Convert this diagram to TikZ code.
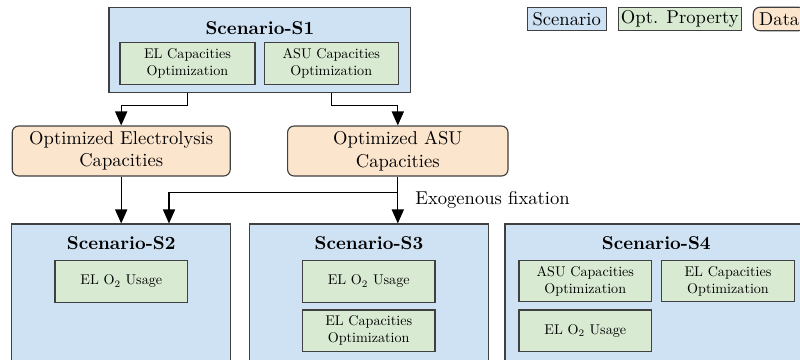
\documentclass[tikz,border=0pt]{standalone}
\usepackage{graphicx}
\usetikzlibrary{arrows.meta}
\def\PX{0.5376pt}
\newcommand\smtxt[1]{\scalebox{0.76}{\begin{tabular}{@{}c@{}}#1\end{tabular}}}
\definecolor{scblue}{HTML}{CFE2F3}
\definecolor{opgreen}{HTML}{D9EAD3}
\definecolor{dtorange}{HTML}{FCE5CD}
\tikzset{
  scen/.style={draw=black!75, line width=0.6pt, fill=scblue, rectangle, inner sep=0pt},
  prop/.style={draw=black!75, line width=0.6pt, fill=opgreen, rectangle, inner sep=0pt, align=center},
  data/.style={draw=black!75, line width=0.6pt, fill=dtorange, rectangle, rounded corners=3.5pt, inner sep=0pt, align=center},
  title/.style={font=\bfseries, inner sep=0pt},
  leg/.style={inner sep=0pt, minimum height=23.4*\PX},
  arr/.style={line width=0.6pt, -{Triangle[width=6.5pt,length=7.5pt]}},
}
\begin{document}
\begin{tikzpicture}[x=0.5376pt, y=-0.5376pt]
\useasboundingbox (0,0) rectangle (800,359);
\clip (0,0) rectangle (800,359);
% Scenario S1
\node[scen, minimum width=301.7*\PX, minimum height=85.4*\PX] (S1) at (259.9,50) {};
\node[title] (S1t) at (259.9,28) {Scenario-S1};
\node[prop, minimum width=135*\PX, minimum height=42*\PX] (S1el) at (187.5,63.3) {\smtxt{EL Capacities\\Optimization}};
\node[prop, minimum width=134*\PX, minimum height=42*\PX] (S1asu) at (331.3,63.3) {\smtxt{ASU Capacities\\Optimization}};
% Data
\node[data, minimum width=218*\PX, minimum height=50*\PX] (O1) at (121.2,151) {Optimized Electrolysis\\Capacities};
\node[data, minimum width=220.4*\PX, minimum height=50*\PX] (O2) at (397.8,151) {Optimized ASU\\Capacities};
% Scenario S2
\node[scen, minimum width=219*\PX, minimum height=170*\PX] (S2) at (121.2,309) {};
\node[title] (S2t) at (121.2,243.3) {Scenario-S2};
\node[prop, minimum width=132.7*\PX, minimum height=41.6*\PX] (S2o2) at (121.3,281.5) {\smtxt{EL O$_2$ Usage}};
% Scenario S3
\node[scen, minimum width=239.4*\PX, minimum height=170*\PX] (S3) at (369,309) {};
\node[title] (S3t) at (369,243.3) {Scenario-S3};
\node[prop, minimum width=132.7*\PX, minimum height=41.6*\PX] (S3o2) at (368.7,281.5) {\smtxt{EL O$_2$ Usage}};
\node[prop, minimum width=132.7*\PX, minimum height=41.7*\PX] (S3el) at (368.7,330.8) {\smtxt{EL Capacities\\Optimization}};
% Scenario S4
\node[scen, minimum width=302*\PX, minimum height=170*\PX] (S4) at (656,309) {};
\node[title] (S4t) at (656.3,243.3) {Scenario-S4};
\node[prop, minimum width=132.7*\PX, minimum height=41*\PX] (S4asu) at (585.3,281.2) {\smtxt{ASU Capacities\\Optimization}};
\node[prop, minimum width=132.6*\PX, minimum height=41*\PX] (S4el) at (728,281.2) {\smtxt{EL Capacities\\Optimization}};
\node[prop, minimum width=132.7*\PX, minimum height=41.7*\PX] (S4o2) at (585.3,330.8) {\smtxt{EL O$_2$ Usage}};
% Legend
\node[scen, leg, minimum width=78.7*\PX] (Lsc) at (566.7,19) {Scenario};
\node[prop, leg, minimum width=123*\PX] (Lop) at (679.8,19) {Opt. Property};
\node[data, leg, minimum width=52*\PX, anchor=west] (Lda) at (752.7,19) {Data};
% Connectors
\draw[arr] (S1el |- S1.south) -- ++(0,12.3) -| (O1.north);
\draw[arr] (S1asu |- S1.south) -- ++(0,12.3) -| (O2.north);
\draw[arr] (O1.south) -- (O1.south |- S2.north);
\draw[arr] (O2.south) -- (O2.south |- S3.north);
\coordinate (fx) at (169,192.3);
\draw[arr] (O2.south |- fx) -- (fx) -- (fx |- S2.north);
\node[anchor=west, inner sep=0pt] (exo) at (415,200) {Exogenous fixation};
\end{tikzpicture}
\end{document}
